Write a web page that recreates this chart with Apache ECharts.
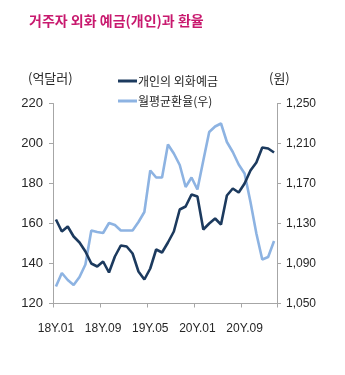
<!DOCTYPE html>
<html>
<head>
<meta charset="utf-8">
<script src="https://cdn.jsdelivr.net/npm/echarts@6/dist/echarts.min.js"></script>
<style>
html,body{margin:0;padding:0;background:#fff;}
#c{width:345px;height:375px;}
</style>
</head>
<body>
<div id="c"></div>
<script>
const categories = ['18Y.01','18Y.02','18Y.03','18Y.04','18Y.05','18Y.06','18Y.07','18Y.08','18Y.09','18Y.10','18Y.11','18Y.12',
  '19Y.01','19Y.02','19Y.03','19Y.04','19Y.05','19Y.06','19Y.07','19Y.08','19Y.09','19Y.10','19Y.11','19Y.12',
  '20Y.01','20Y.02','20Y.03','20Y.04','20Y.05','20Y.06','20Y.07','20Y.08','20Y.09','20Y.10','20Y.11','20Y.12',
  '21Y.01','21Y.02'];
const deposits = [162, 156, 158.5, 153.5, 150.5, 146, 140, 138.5, 141, 135.5, 143.5, 149, 148.5, 145, 136, 132, 137.5, 147, 145.5, 150.5,
  156, 167, 168.5, 174.5, 173.5, 157, 160, 162.5, 159.5, 174, 177.5, 175.5, 180, 186.5, 190.5, 198, 197.5, 195.5];
const fxRate = [1067, 1080.5, 1073.5, 1068.5, 1076.5, 1089, 1123, 1121.5, 1120.5, 1130.5, 1128.5, 1123, 1123, 1123, 1131.5, 1141.5, 1183, 1176, 1176, 1209,
  1200, 1188.5, 1166.5, 1176, 1164, 1193, 1221.5, 1227, 1230, 1211.5, 1201.5, 1189, 1180, 1151.5, 1120, 1094, 1096.5, 1112.5];
const seriesNames = ['개인의 외화예금', '월평균환율(우)'];
const titleText = '거주자 외화 예금(개인)과 환율';
const leftUnit = '(억달러)';
const rightUnit = '(원)';

const latin = "'Liberation Sans',Arial,sans-serif";
const kr = "'Noto Sans CJK KR','Noto Sans',sans-serif";
const axisColor = '#a6a6a6';
const textColor = '#262626';

const chart = echarts.init(document.getElementById('c'), null, {renderer: 'canvas'});
chart.setOption({
  animation: false,
  backgroundColor: '#fff',
  title: {
    text: titleText, left: 24, top: 9,
    textStyle: {color: '#c8196e', fontSize: 14, fontWeight: 'bold', fontFamily: kr}
  },
  legend: {
    orient: 'vertical', left: 113, top: 70, itemWidth: 19, itemHeight: 3, itemGap: 8,
    icon: 'rect',
    textStyle: {color: textColor, fontSize: 12, fontFamily: kr, padding: [0,0,0,-4]},
    data: seriesNames
  },
  graphic: [
    {type: 'text', left: 28, top: 72, style: {text: leftUnit, fill: textColor, font: "13px " + kr}},
    {type: 'text', left: 269, top: 72, style: {text: rightUnit, fill: textColor, font: "13px " + kr}}
  ],
  grid: {left: 53, right: 68, top: 103.5, bottom: 71.5},
  xAxis: {
    type: 'category', data: categories, boundaryGap: true,
    axisLine: {lineStyle: {color: axisColor, width: 1}},
    axisTick: {show: true, interval: 7, length: 4, lineStyle: {color: axisColor}},
    axisLabel: {interval: 7, margin: 19, color: textColor, fontSize: 12, fontFamily: latin}
  },
  yAxis: [
    {
      type: 'value', min: 120, max: 220, interval: 20, position: 'left',
      axisLine: {show: true, lineStyle: {color: axisColor}},
      axisTick: {show: true, length: 4, lineStyle: {color: axisColor}},
      splitLine: {show: false},
      axisLabel: {margin: 10, color: textColor, fontSize: 13, fontFamily: latin}
    },
    {
      type: 'value', min: 1050, max: 1250, interval: 40, position: 'right',
      axisLine: {show: true, lineStyle: {color: axisColor}},
      axisTick: {show: true, length: 4, lineStyle: {color: axisColor}},
      splitLine: {show: false},
      axisLabel: {margin: 9, color: textColor, fontSize: 12, fontFamily: latin,
        formatter: v => v.toLocaleString('en-US')}
    }
  ],
  series: [
    {
      name: seriesNames[0], type: 'line', yAxisIndex: 0, data: deposits,
      symbol: 'none', lineStyle: {color: '#1c3a5e', width: 2.6}, itemStyle: {color: '#1c3a5e'}, z: 3
    },
    {
      name: seriesNames[1], type: 'line', yAxisIndex: 1, data: fxRate,
      symbol: 'none', lineStyle: {color: '#8db3e2', width: 2.6}, itemStyle: {color: '#8db3e2'}, z: 2
    }
  ]
});
</script>
</body>
</html>
